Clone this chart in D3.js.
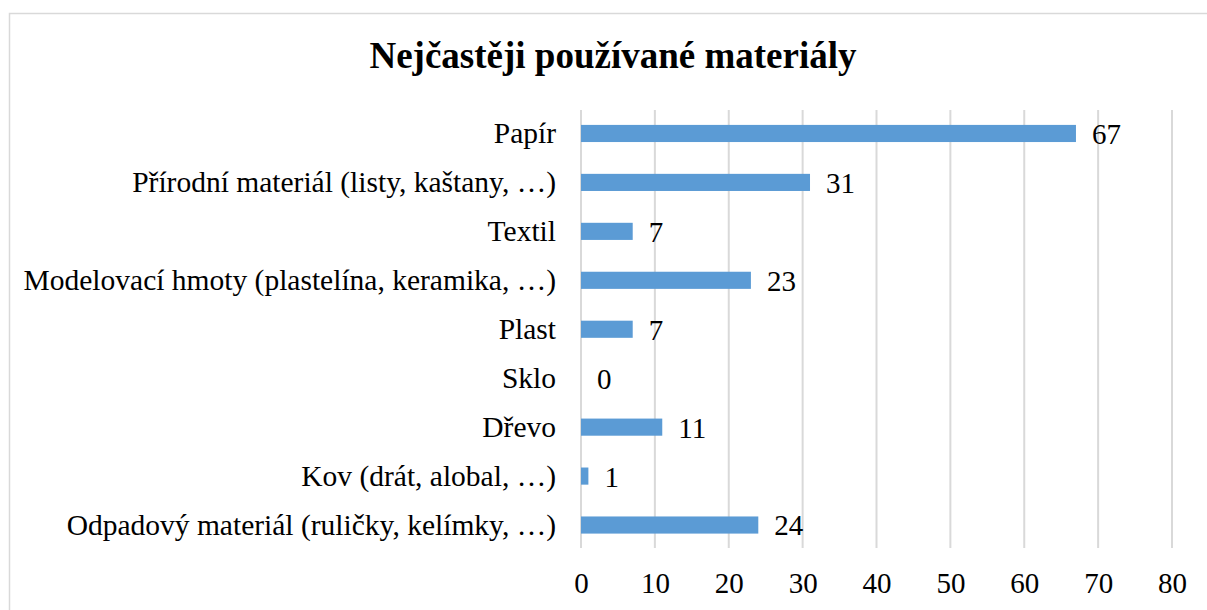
<!DOCTYPE html>
<html><head><meta charset="utf-8">
<script src="https://cdn.jsdelivr.net/npm/d3@7/dist/d3.min.js"></script>
<style>body{margin:0;background:#fff}svg{display:block}text{font-family:"Liberation Serif","Times New Roman",serif}</style>
</head><body>
<script>
const categories = ["Papír","Přírodní materiál (listy, kaštany, …)","Textil","Modelovací hmoty (plastelína, keramika, …)","Plast","Sklo","Dřevo","Kov (drát, alobal, …)","Odpadový materiál (ruličky, kelímky, …)"];
const values = [67,31,7,23,7,0,11,1,24];
const ticks = [0,10,20,30,40,50,60,70,80];
const title = "Nejčastěji používané materiály";

const W = 1207, H = 610;
const svg = d3.select("body").append("svg").attr("width", W).attr("height", H);
svg.append("rect").attr("x",9.5).attr("y",13.5).attr("width",1220).attr("height",640)
  .attr("fill","#fff").attr("stroke","#d9d9d9").attr("stroke-width",1.5);

const x = d3.scaleLinear().domain([0,80]).range([581,1172]);
const y = d3.scaleBand().domain(categories).range([109,549.5]).paddingInner(0.65).paddingOuter(0.325);

svg.append("text").attr("x",613).attr("y",68).attr("text-anchor","middle")
  .attr("font-size",37).attr("font-weight","bold").attr("fill","#000").text(title);

const grid = svg.append("g");
grid.selectAll("line").data(ticks).join("line")
  .attr("x1",d=>x(d)).attr("x2",d=>x(d)).attr("y1",110).attr("y2",548)
  .attr("stroke","#d9d9d9").attr("stroke-width",2);

const xAxis = svg.append("g").attr("transform","translate(0,548)")
  .call(d3.axisBottom(x).tickValues(ticks).tickSize(0).tickPadding(0));
xAxis.attr("font-family",null);
xAxis.select(".domain").remove();
xAxis.selectAll("text").attr("font-size",29).attr("fill","#000").attr("y",45).attr("dy",null);

const yAxis = svg.append("g").attr("transform","translate(556,0)")
  .call(d3.axisLeft(y).tickSize(0).tickPadding(0));
yAxis.attr("font-family",null);
yAxis.select(".domain").remove();
yAxis.selectAll("text").attr("font-size",29.5).attr("fill","#000").attr("dy","0.33em");

svg.append("g").selectAll("rect").data(values).join("rect")
  .attr("x",x(0)).attr("y",(d,i)=>y(categories[i]))
  .attr("width",d=>x(d)-x(0)).attr("height",y.bandwidth())
  .attr("fill","#5b9bd5");

svg.append("g").selectAll("text").data(values).join("text")
  .attr("x",d=>x(d)+16).attr("y",(d,i)=>y(categories[i])+y.bandwidth()/2)
  .attr("dy","0.36em").attr("font-size",29).attr("fill","#000").text(d=>d);
</script>
</body></html>
